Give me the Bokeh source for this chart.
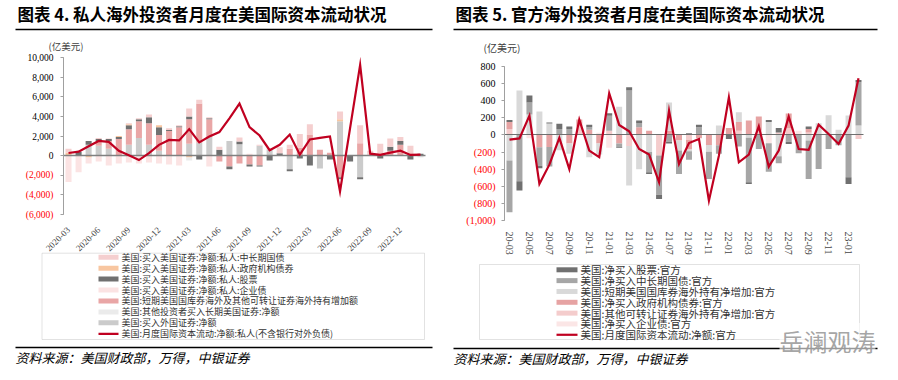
from math import pi
from bokeh.plotting import figure
from bokeh.models import (ColumnDataSource, Range1d, FixedTicker, Label, BoxAnnotation, LinearAxis)
from bokeh.layouts import row
from bokeh.embed import file_html
from bokeh.resources import INLINE

# ---------------- data ----------------
months = ["2020-03", "2020-04", "2020-05", "2020-06", "2020-07", "2020-08", "2020-09",
          "2020-10", "2020-11", "2020-12", "2021-01", "2021-02", "2021-03", "2021-04",
          "2021-05", "2021-06", "2021-07", "2021-08", "2021-09", "2021-10", "2021-11",
          "2021-12", "2022-01", "2022-02", "2022-03", "2022-04", "2022-05", "2022-06",
          "2022-07", "2022-08", "2022-09", "2022-10", "2022-11", "2022-12", "2023-01",
          "2023-02"]

# Chart 4 (private), 亿美元
priv_fx = [0, 0, 1100, 1000, 700, 0, 1100, 1800, 1100, 500, 0, 0, 1200, 1300, 1900, 0,
           1500, 1150, 0, 1000, 600, 0, -1400, 0, 0, -1300, 0, 3500, 0, -2200, 0, 0, 0, 0, 0, 0]
priv_st = [0, 0, 0, 500, 800, 1700, 1600, 1700, 2200, 1600, 2500, 2900, 2500, 4000, 1800, -600,
           -1100, -800, -900, -1000, 0, 0, 700, 800, 2100, 600, 300, -2200, 0, 1250, 0, 0, 500, 1100, 0, 0]
priv_eq = [0, 400, 400, 200, 200, 200, 400, 200, 600, 800, 100, 100, 300, -400, 100, 600,
           -300, 300, -200, -100, -500, 250, -200, -300, -1000, 0, -400, -200, -600, -200, 0, -300, 400, 400, -400, 200]
priv_ag = [300, 0, -200, 0, 0, 100, 100, 0, 0, 200, 0, 0, -200, 0, 0, 0,
           0, 0, 0, 0, 0, 0, 0, 0, 0, 0, 0, 200, 0, 0, 0, 0, 0, 0, 0, 0]
priv_tr = [400, 0, 0, 100, 50, 0, 100, 100, 300, 0, 200, 100, 800, 400, 100, 300,
           0, 400, 0, 100, 150, 600, 400, 1400, 1100, 0, 0, 800, 0, 1850, 500, 1200, 850, 400, 1000, 0]
priv_cb = [-2700, -1700, -600, -600, -1000, -800, -700, -800, -700, -800, -900, -1000, 0, 0, -1100, 0,
           0, 0, 200, 0, 0, 0, 0, 0, 0, 0, 0, 0, 0, 0, 0, 0, 0, 0, 0, 0]
priv_ot = [0, 0, 0, 0, 0, 0, 0, 0, 0, 0, 0, 0, -300, 0, 0, 0,
           0, 0, 0, 0, 0, 0, 0, 0, 0, 0, 0, 0, 0, 0, 0, 0, 0, 0, 0, -200]
priv_line = [270, 400, 950, 1500, 1400, 500, 30, -450, 250, 1100, 1600, 1550, 2700, 1350, 1950, 2400,
             3800, 5300, 2900, 2050, 550, 1100, 2150, 100, 1650, 1800, 1950, -3650, 2800, 9250, 200, 70,
             300, 500, 70, 100]

# Chart 5 (official), 亿美元
off_eq = [25, -110, 80, -30, 10, 60, 30, 0, 30, 0, 28, -10, 37, 28, -20, -50, -20, 10,
          20, 30, 0, 0, -47, 0, -20, 0, 25, 50, -25, 0, 30, 0, 0, 0, -78, 27]
off_tr = [-605, -540, 140, -215, -230, 70, 70, 0, 30, 0, 175, -40, 520, 50, -237, -460, -80, -273,
          -100, 90, -320, -100, 0, -136, -520, -164, -333, -80, -80, -214, -449, -398, -164, -120, -495, 506]
off_st = [-300, 520, 240, 273, 135, -180, -120, 0, -260, -130, 0, 330, -460, -400, -200, 0, 330, -117,
          -20, 0, -78, 110, 0, 115, -33, 0, 150, -250, 0, 0, -66, 136, 230, 60, 226, 110]
off_ag = [80, 0, 0, -145, -140, 0, -100, 80, 60, -100, 0, -100, 0, 90, 50, 0, 50, -66,
          -110, -40, -117, -120, 82, 100, 168, 165, 0, 0, 170, 0, 40, 0, 0, 0, 0, 0]
off_oth = [70, 0, 0, 0, 0, 0, 0, 100, 0, 0, 50, 0, -130, 0, 0, -240, 0, 0,
           -60, 0, 0, 0, 0, 50, 0, 50, 0, 30, 80, 0, 30, 0, 0, 0, 0, -47]
off_cb = [0, 0, -40, 0, 0, 0, 0, 0, 0, 25, -150, 0, 0, 0, 0, 0, 0, 0,
          0, 0, 0, 0, 0, 0, 0, 0, -97, 0, 0, 50, 0, 0, 0, 0, 0, 0]
off_line = [-55, -40, 226, -573, -347, -35, -400, 180, -183, -260, 487, 117, 43, -164, -230, -553,
            285, -339, -94, -47, -768, -242, 440, -320, -230, 101, -370, -183, 214, -164, -175, 121,
            12, -105, 109, 663]

left_xtick_idx = [0, 3, 6, 9, 12, 15, 18, 21, 24, 27, 30, 33]
right_xtick_idx = [0, 2, 4, 6, 8, 10, 12, 14, 16, 18, 20, 22, 24, 26, 28, 30, 32, 34]
left_yticks = [-6000, -4000, -2000, 0, 2000, 4000, 6000, 8000, 10000]
left_ylabels = ["(6,000)", "(4,000)", "(2,000)", "0", "2,000", "4,000", "6,000", "8,000", "10,000"]
right_yticks = [-1000, -800, -600, -400, -200, 0, 200, 400, 600, 800]
right_ylabels = ["(1,000)", "(800)", "(600)", "(400)", "(200)", "0", "200", "400", "600", "800"]

left_legend = ["美国:买入美国证券:净额:私人:中长期国债",
               "美国:买入美国证券:净额:私人:政府机构债券",
               "美国:买入美国证券:净额:私人:股票",
               "美国:买入美国证券:净额:私人:企业债",
               "美国:短期美国国库券海外及其他可转让证券海外持有增加额",
               "美国:其他投资者买入长期美国证券:净额",
               "美国:买入外国证券:净额",
               "美国:月度国际资本流动:净额:私人(不含银行对外负债)"]
right_legend = ["美国:净买入股票:官方",
                "美国:净买入中长期国债:官方",
                "美国:短期美国国库券海外持有净增加:官方",
                "美国:净买入政府机构债券:官方",
                "美国:其他可转让证券海外持有净增加:官方",
                "美国:净买入企业债:官方",
                "美国:月度国际资本流动:净额:官方"]

CJK = "Noto Sans CJK SC"
SERIF = "Liberation Serif"
RED = "#C00020"
SOURCE = "资料来源：美国财政部，万得，中银证券"
UNIT = "(亿美元)"
WATERMARK = "岳澜观涛"


def stack(series):
    n = len(series[0])
    pos = [0.0] * n
    neg = [0.0] * n
    out = []
    for vals in series:
        b, t = [], []
        for i, v in enumerate(vals):
            if v >= 0:
                b.append(pos[i]); pos[i] += v; t.append(pos[i])
            else:
                t.append(neg[i]); neg[i] += v; b.append(neg[i])
        out.append((b, t))
    return out


def build(cfg):
    W, H = cfg["W"], cfg["H"]
    n = len(months)
    X0, X1, Y0, Y1 = cfg["plot"]
    ymin, ymax = cfg["yr"]
    kx = (X1 - X0) / n
    ky = (Y1 - Y0) / (ymax - ymin)
    xr = Range1d(-0.5 - X0 / kx, n - 0.5 + (W - X1) / kx)
    yr = Range1d(ymin - (H - Y1) / ky, ymax + Y0 / ky)
    p = figure(width=W, height=H, x_range=xr, y_range=yr, x_axis_location=None,
               y_axis_location=None, min_border=0, output_backend="svg",
               toolbar_location=None, title=None)
    p.xgrid.visible = False
    p.ygrid.visible = False
    p.outline_line_color = None

    def S(Y):  # page-y to screen-y (frame covers the whole canvas)
        return H - Y

    # bars
    x = list(range(n))
    for (b, t), c in zip(stack(cfg["series"]), cfg["colors"]):
        src = ColumnDataSource(dict(x=x, b=b, t=t))
        p.vbar(x="x", bottom="b", top="t", width=0.6, source=src, fill_color=c, line_color=None)

    # axes (fixed inside the canvas-wide frame)
    ticks, labels = cfg["yticks"], cfg["ylabels"]
    ya = LinearAxis(fixed_location=-0.5, bounds=(ymin, ymax),
                    ticker=FixedTicker(ticks=[t for t in ticks if t >= 0]),
                    major_label_overrides={t: l for t, l in zip(ticks, labels) if t >= 0})
    yb = LinearAxis(fixed_location=-0.5, bounds=(ymin, ymax),
                    ticker=FixedTicker(ticks=[t for t in ticks if t < 0]),
                    major_label_overrides={t: l for t, l in zip(ticks, labels) if t < 0})
    for ax, col in ((ya, "#000000"), (yb, "#FF0000")):
        ax.axis_line_color = "#A0A0A0"
        ax.major_tick_line_color = "#A0A0A0"
        ax.major_tick_out = 3
        ax.major_tick_in = 0
        ax.minor_tick_line_color = None
        ax.major_label_standoff = cfg["ystand"]
        ax.major_label_text_font = SERIF
        ax.major_label_text_font_size = cfg["yfont"]
        ax.major_label_text_color = col
        p.add_layout(ax, "left")

    xa = LinearAxis(fixed_location=ymin, ticker=FixedTicker(ticks=cfg["xidx"]),
                    major_label_overrides={i: cfg["xlab"][k] for k, i in enumerate(cfg["xidx"])})
    xa.axis_line_color = None
    xa.major_tick_line_color = None
    xa.minor_tick_line_color = None
    xa.major_label_orientation = cfg["xorient"]
    xa.major_label_text_font = SERIF
    xa.major_label_text_font_size = cfg["xfont"]
    xa.major_label_standoff = cfg["xstand"]
    p.add_layout(xa, "below")

    zero = LinearAxis(fixed_location=0, bounds=(-0.5, n - 0.5), ticker=FixedTicker(ticks=[]))
    zero.axis_line_color = cfg["zero_color"]
    zero.axis_line_width = cfg["zero_width"]
    zero.major_tick_line_color = None
    zero.minor_tick_line_color = None
    zero.major_label_text_font_size = "0px"
    p.add_layout(zero, "below")

    ln = p.line(x, cfg["line"], line_color=RED, line_width=2.2, line_join="miter")
    ln.level = "overlay"

    # title, rules, unit, legend, source
    tx, ty = cfg["title_xy"]
    p.add_layout(Label(x=tx, y=S(ty), x_units="screen", y_units="screen", text=cfg["title"],
                       text_font=CJK, text_font_size="16.5px", text_font_style="bold",
                       text_baseline="middle", text_color="#000000"))
    for (l, r, Y) in cfg["rules"]:
        p.add_layout(BoxAnnotation(left=l, right=r, bottom=S(Y + 0.75), top=S(Y - 0.75),
                                   left_units="screen", right_units="screen",
                                   top_units="screen", bottom_units="screen",
                                   fill_color="#000000", fill_alpha=1, line_color=None))
    ux, uy = cfg["unit_xy"]
    p.add_layout(Label(x=ux, y=S(uy), x_units="screen", y_units="screen", text=UNIT,
                       text_font=CJK, text_font_size=cfg["unit_font"],
                       text_baseline="middle", text_color="#404040"))
    bl, br, bt, bb = cfg["box"]
    p.add_layout(BoxAnnotation(left=bl, right=br, top=S(bt), bottom=S(bb),
                               left_units="screen", right_units="screen",
                               top_units="screen", bottom_units="screen",
                               fill_alpha=0, line_color="#A0A0A0", line_width=1))
    gx, gw, cy0, pitch = cfg["leg"]
    for k, (lab, c) in enumerate(zip(cfg["legend"], cfg["leg_colors"])):
        cy = cy0 + k * pitch
        if c == "line":
            h, col = 2.2, RED
        else:
            h, col = 5, c
        p.add_layout(BoxAnnotation(left=gx, right=gx + gw, bottom=S(cy + h / 2), top=S(cy - h / 2),
                                   left_units="screen", right_units="screen",
                                   top_units="screen", bottom_units="screen",
                                   fill_color=col, fill_alpha=1, line_color=None))
        p.add_layout(Label(x=gx + gw + 3, y=S(cy), x_units="screen", y_units="screen", text=lab,
                           text_font=CJK, text_font_size=cfg["leg_font"],
                           text_baseline="middle", text_color="#333333"))
    sx, sy = cfg["source_xy"]
    p.add_layout(Label(x=sx, y=S(sy), x_units="screen", y_units="screen", text=SOURCE,
                       text_font=CJK, text_font_size="13px", text_font_style="italic",
                       text_baseline="middle", text_color="#000000"))
    if cfg.get("watermark_xy"):
        wx, wy = cfg["watermark_xy"]
        p.add_layout(Label(x=wx, y=S(wy), x_units="screen", y_units="screen", text=WATERMARK,
                           text_font=CJK, text_font_size="24px", text_baseline="middle",
                           text_color="#9A9A9A", text_alpha=0.9,
                           background_fill_color="white", background_fill_alpha=0.6))
    return p


# colours
cL = {"fx": "#CBCBCB", "st": "#E9A6A6", "eq": "#707070", "ag": "#F8C6A0",
      "tr": "#F5CFCF", "cb": "#FBE3E3", "ot": "#EBEBEB"}
cR = {"cb": "#FBE6E6", "oth": "#F4CCCC", "ag": "#E6A3A3", "st": "#D9D9D9",
      "tr": "#A6A6A6", "eq": "#707070"}

left_cfg = dict(
    W=449, H=380, plot=(63, 425, 57, 214), yr=(-6000, 10000),
    series=[priv_fx, priv_st, priv_eq, priv_ag, priv_tr, priv_cb, priv_ot],
    colors=[cL["fx"], cL["st"], cL["eq"], cL["ag"], cL["tr"], cL["cb"], cL["ot"]],
    line=priv_line, yticks=left_yticks, ylabels=left_ylabels, yfont="9.5px", ystand=7,
    xidx=left_xtick_idx, xlab=[months[i] for i in left_xtick_idx], xorient=pi / 4,
    xfont="9px", xstand=8, zero_color="#808080", zero_width=1.5,
    title="图表 4. 私人海外投资者月度在美国际资本流动状况", title_xy=(17, 13),
    rules=[(15, 432, 29), (15, 432, 347)], unit_xy=(48, 45), unit_font="9.5px",
    box=(41.5, 424, 252.7, 339), leg=(98, 20, 256.7, 10.94), leg_font="9px",
    legend=left_legend,
    leg_colors=[cL["tr"], cL["ag"], cL["eq"], cL["cb"], cL["st"], cL["ot"], cL["fx"], "line"],
    source_xy=(15, 357))

right_cfg = dict(
    W=449, H=380, plot=(55, 414, 66, 220), yr=(-1000, 800),
    series=[off_cb, off_oth, off_ag, off_st, off_tr, off_eq],
    colors=[cR["cb"], cR["oth"], cR["ag"], cR["st"], cR["tr"], cR["eq"]],
    line=off_line, yticks=right_yticks, ylabels=right_ylabels, yfont="10px", ystand=6,
    xidx=right_xtick_idx, xlab=[months[i][2:] for i in right_xtick_idx], xorient="vertical",
    xfont="10px", xstand=5, zero_color="#6F6F6F", zero_width=1.2,
    title="图表 5. 官方海外投资者月度在美国际资本流动状况", title_xy=(6, 13),
    rules=[(4, 428, 29), (4, 428, 348)], unit_xy=(34, 47), unit_font="10px",
    box=(30, 410, 264, 339), leg=(107, 21, 269.3, 10.83), leg_font="10.5px",
    legend=right_legend,
    leg_colors=[cR["eq"], cR["tr"], cR["st"], cR["ag"], cR["oth"], cR["cb"], "line"],
    source_xy=(4, 358), watermark_xy=(330, 340))

L = build(left_cfg)
R = build(right_cfg)
open("out.html", "w").write(file_html(row(L, R), INLINE))
